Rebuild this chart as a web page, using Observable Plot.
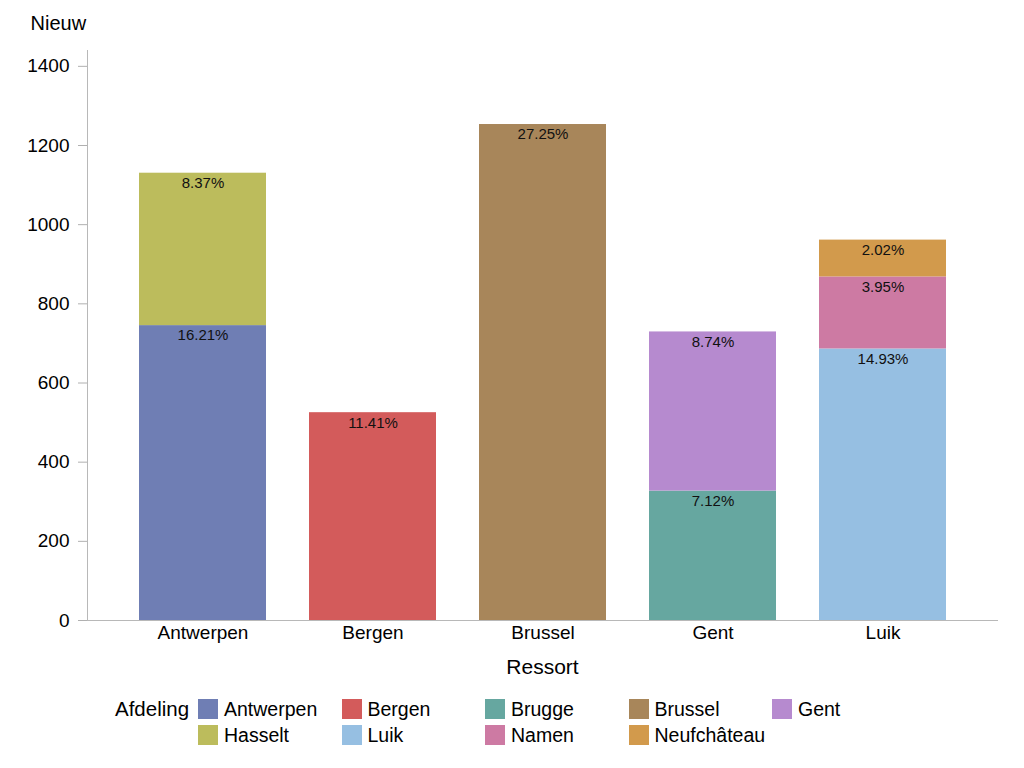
<!DOCTYPE html>
<html>
<head>
<meta charset="utf-8">
<script src="https://cdn.jsdelivr.net/npm/d3@7"></script>
<script src="https://cdn.jsdelivr.net/npm/@observablehq/plot@0.6"></script>
<style>
  html, body { margin: 0; padding: 0; background: #fff; }
  body { font-family: "Liberation Sans", Arial, sans-serif; width: 1024px; height: 768px; overflow: hidden; }
  #legend { position: absolute; left: 115px; top: 696px; display: flex; font-size: 19.5px; color: #000; }
  #legend .title { width: 83px; line-height: 26px; font-size: 20.5px; }
  #legend .grid { display: grid; grid-template-columns: repeat(5, 143.5px); grid-auto-rows: 26px; }
  #legend .item { display: flex; align-items: center; white-space: nowrap; }
  #legend .sw { width: 20px; height: 20px; margin-right: 6px; flex: none; }
</style>
</head>
<body>
<div id="chart"></div>
<div id="legend"></div>
<script>
const ressorts = ["Antwerpen", "Bergen", "Brussel", "Gent", "Luik"];
const afdelingen = ["Antwerpen", "Bergen", "Brugge", "Brussel", "Gent", "Hasselt", "Luik", "Namen", "Neufchâteau"];
const colors = ["#6f7eb4", "#d35b5b", "#66a7a0", "#a8865a", "#b68acf", "#bcbc5c", "#96bfe2", "#cd7aa3", "#d29a4c"];

// stacked segments (bottom to top within each ressort)
const segRessort = ["Antwerpen", "Antwerpen", "Bergen", "Brussel", "Gent", "Gent", "Luik", "Luik", "Luik"];
const segAfdeling = ["Antwerpen", "Hasselt", "Bergen", "Brussel", "Brugge", "Gent", "Luik", "Namen", "Neufchâteau"];
const segValue = [745, 385, 525, 1253, 327, 402, 686, 182, 93];
const segPct = ["16.21%", "8.37%", "11.41%", "27.25%", "7.12%", "8.74%", "14.93%", "3.95%", "2.02%"];
const yTicks = [0, 200, 400, 600, 800, 1000, 1200, 1400];

const data = segRessort.map((r, i) => ({ressort: r, afdeling: segAfdeling[i], value: segValue[i], pct: segPct[i]}));

const chart = Plot.plot({
  width: 1024,
  height: 690,
  marginLeft: 87,
  marginRight: 27,
  marginTop: 50,
  marginBottom: 70,
  style: {fontFamily: "'Liberation Sans', Arial, sans-serif", fontSize: "19px", color: "#000", background: "#fff"},
  x: {domain: ressorts, paddingInner: 0.255, paddingOuter: 0.296, label: null},
  y: {domain: [0, 1440], label: null},
  color: {domain: afdelingen, range: colors},
  marks: [
    Plot.barY(data, Plot.stackY({x: "ressort", y: "value", fill: "afdeling", order: null})),
    Plot.text(data, Plot.stackY2({x: "ressort", y: "value", z: null, order: null, text: "pct", dy: 10, fontSize: 15, fill: "#111"})),
    Plot.frame({anchor: "left", stroke: "#b8b8b8"}),
    Plot.frame({anchor: "bottom", stroke: "#b8b8b8"}),
    Plot.axisY({ticks: yTicks, tickSize: 9, tickPadding: 9, stroke: "#b0b0b0", fill: "#000", label: null, fontSize: 19, tickFormat: d => String(d)}),
    Plot.axisX({tickSize: 0, tickPadding: 5, fill: "#000", label: null, fontSize: 19}),
    Plot.text(["Ressort"], {frameAnchor: "bottom", dy: 53, fontSize: 21, fill: "#000"}),
    Plot.text(["Nieuw"], {frameAnchor: "top-left", dx: -57, dy: -35, textAnchor: "start", fontSize: 20, fill: "#000"})
  ]
});
document.getElementById("chart").appendChild(chart);

const legend = document.getElementById("legend");
const t = document.createElement("div");
t.className = "title";
t.textContent = "Afdeling";
legend.appendChild(t);
const grid = document.createElement("div");
grid.className = "grid";
afdelingen.forEach((a, i) => {
  const it = document.createElement("div");
  it.className = "item";
  const sw = document.createElement("div");
  sw.className = "sw";
  sw.style.background = colors[i];
  const lb = document.createElement("span");
  lb.textContent = a;
  it.appendChild(sw);
  it.appendChild(lb);
  grid.appendChild(it);
});
legend.appendChild(grid);
</script>
</body>
</html>
